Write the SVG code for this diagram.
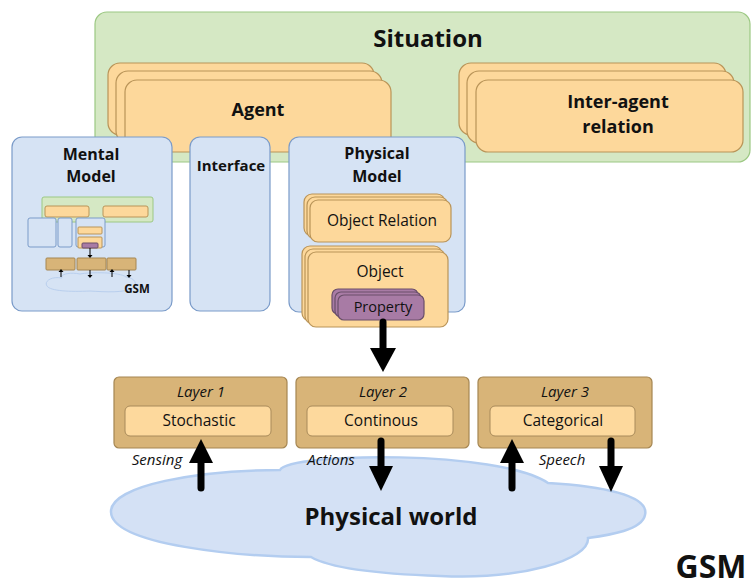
<svg xmlns="http://www.w3.org/2000/svg" width="756" height="588" viewBox="0 0 756 588">
<style>
text{font-family:"Open Sans","Noto Sans","DejaVu Sans",sans-serif;fill:#111;text-anchor:middle}
.b{font-weight:bold}
.i{font-style:italic}
.sit{fill:#d5e8c4;stroke:#9cc883;stroke-width:1.2}
.org{fill:#fdd89b;stroke:#b99458;stroke-width:1.2}
.blu{fill:#d6e3f4;stroke:#7a9bc9;stroke-width:1.2}
.lay{fill:#d8b478;stroke:#a58652;stroke-width:1.2}
.inn{fill:#fdd99d;stroke:#a88a5a;stroke-width:1}
.pur{fill:#a87ba5;stroke:#6a4f6a;stroke-width:1.2}
.shaft{stroke:#000;stroke-width:7;stroke-linecap:round;fill:none}
.head{fill:#000}
.m{stroke-width:1}
</style>

<g id="situation">
<rect class="sit" x="95" y="12" width="655" height="150" rx="12"/>
<text class="b" x="428" y="47" font-size="24">Situation</text>
</g>

<g id="agent">
<rect class="org" x="108" y="63" width="266" height="72" rx="12"/>
<rect class="org" x="116" y="71" width="266" height="72" rx="12"/>
<rect class="org" x="125" y="80" width="266" height="72" rx="12"/>
<text class="b" x="258" y="116" font-size="18">Agent</text>
</g>

<g id="inter-agent">
<rect class="org" x="459" y="63" width="267" height="72" rx="12"/>
<rect class="org" x="467" y="71" width="267" height="72" rx="12"/>
<rect class="org" x="476" y="80" width="267" height="72" rx="12"/>
<text class="b" x="618" y="108" font-size="18">Inter-agent</text>
<text class="b" x="618" y="133" font-size="18">relation</text>
</g>

<g id="mental-model">
<rect class="blu" x="12" y="137" width="160" height="174" rx="10"/>
<text class="b" x="91" y="160" font-size="16">Mental</text>
<text class="b" x="91" y="182" font-size="16">Model</text>
<g id="mini-gsm">
<path d="M62 278 C50 276 44 282 47 286 C50 291 70 292 90 291 C105 292 125 293 133 288 C138 284 135 278 126 277 C120 272 90 272 80 274 C70 272 60 274 62 278 Z" fill="#d6e3f4" stroke="#b9cfee" stroke-width="1"/>
<rect class="sit m" x="42" y="197" width="111" height="25" rx="2"/>
<rect class="org m" x="45" y="206" width="44" height="11" rx="2"/>
<rect class="org m" x="103" y="206" width="45" height="11" rx="2"/>
<rect class="blu m" x="28" y="218" width="28" height="29" rx="2"/>
<rect class="blu m" x="58" y="218" width="14" height="29" rx="2"/>
<rect class="blu m" x="76" y="218" width="29" height="29" rx="2"/>
<rect class="org m" x="78" y="227" width="24" height="7" rx="1"/>
<rect class="org m" x="78" y="237" width="24" height="11" rx="1"/>
<rect class="pur m" x="82" y="243" width="16" height="5" rx="1"/>
<rect class="lay m" x="46" y="258" width="29" height="12" rx="1"/>
<rect class="lay m" x="77" y="258" width="29" height="12" rx="1"/>
<rect class="lay m" x="107" y="258" width="29" height="12" rx="1"/>
<g stroke="#000" stroke-width="1">
<line x1="90" y1="248" x2="90" y2="255"/>
<line x1="61" y1="277" x2="61" y2="272"/>
<line x1="90" y1="270" x2="90" y2="275"/>
<line x1="112" y1="277" x2="112" y2="272"/>
<line x1="129" y1="270" x2="129" y2="275"/>
</g>
<g fill="#000">
<path d="M87.5 255 L92.5 255 L90 258 Z"/>
<path d="M58.5 272 L63.5 272 L61 269 Z"/>
<path d="M87.5 275 L92.5 275 L90 278 Z"/>
<path d="M109.5 272 L114.5 272 L112 269 Z"/>
<path d="M126.5 275 L131.5 275 L129 278 Z"/>
</g>
<text class="b" x="137" y="293" font-size="11.5">GSM</text>
</g>
</g>

<g id="interface">
<rect class="blu" x="190" y="137" width="80" height="174" rx="10"/>
<text class="b" x="231" y="171" font-size="15">Interface</text>
</g>

<g id="physical-model">
<rect class="blu" x="289" y="137" width="176" height="175" rx="10"/>
<text class="b" x="377" y="159" font-size="16">Physical</text>
<text class="b" x="377" y="182" font-size="16">Model</text>
</g>

<g id="object-relation">
<rect class="org" x="304" y="194" width="141" height="42" rx="8"/>
<rect class="org" x="307" y="197" width="141" height="42" rx="8"/>
<rect class="org" x="310" y="200" width="141" height="42" rx="8"/>
<text x="382" y="226" font-size="15.5">Object Relation</text>
</g>

<g id="object">
<rect class="org" x="302" y="246" width="140" height="75" rx="8"/>
<rect class="org" x="305" y="249" width="140" height="75" rx="8"/>
<rect class="org" x="308" y="252" width="140" height="75" rx="8"/>
<text x="380" y="277" font-size="15.5">Object</text>
</g>

<g id="property">
<rect class="pur" x="332" y="289" width="86" height="25" rx="6"/>
<rect class="pur" x="335" y="292" width="86" height="25" rx="6"/>
<rect class="pur" x="338" y="295" width="86" height="25" rx="6"/>
<text x="383" y="312" font-size="14.5">Property</text>
</g>

<g id="layer1">
<rect class="lay" x="114" y="377" width="173" height="71" rx="5"/>
<text class="i" x="201" y="397" font-size="15">Layer 1</text>
<rect class="inn" x="125" y="406" width="146" height="30" rx="5"/>
<text x="199" y="426" font-size="15.5">Stochastic</text>
</g>

<g id="layer2">
<rect class="lay" x="296" y="377" width="173" height="71" rx="5"/>
<text class="i" x="383" y="397" font-size="15">Layer 2</text>
<rect class="inn" x="307" y="406" width="146" height="30" rx="5"/>
<text x="381" y="426" font-size="15.5">Continous</text>
</g>

<g id="layer3">
<rect class="lay" x="478" y="377" width="174" height="71" rx="5"/>
<text class="i" x="565" y="397" font-size="15">Layer 3</text>
<rect class="inn" x="490" y="406" width="145" height="30" rx="5"/>
<text x="563" y="426" font-size="15.5">Categorical</text>
</g>

<g id="physical-world">
<path d="M280 470 C290 452 500 450 548 483 C600 486 650 495 645 515 C642 530 610 535 588 538 C590 560 520 580 440 576 C380 574 330 568 311 557 C240 557 112 545 111 512 C110 485 200 470 280 470 Z" fill="#d4e1f5" stroke="#b3cdf0" stroke-width="2.5"/>
<text class="b" x="391" y="525" font-size="24">Physical world</text>
</g>

<g id="connectors">
<line class="shaft" x1="383" y1="322" x2="383" y2="350"/>
<path class="head" d="M370 348 L396 348 L383 372 Z"/>
<line class="shaft" x1="201" y1="488" x2="201" y2="460"/>
<path class="head" d="M189 463 L213 463 L201 439 Z"/>
<line class="shaft" x1="381" y1="441" x2="381" y2="469"/>
<path class="head" d="M369 466 L393 466 L381 491 Z"/>
<line class="shaft" x1="512" y1="488" x2="512" y2="460"/>
<path class="head" d="M500 463 L524 463 L512 439 Z"/>
<line class="shaft" x1="611" y1="441" x2="611" y2="469"/>
<path class="head" d="M599 466 L623 466 L611 492 Z"/>
<text class="i" x="157" y="465" font-size="15">Sensing</text>
<text class="i" x="331" y="465" font-size="15">Actions</text>
<text class="i" x="562" y="465" font-size="15">Speech</text>
</g>

<text class="b" x="711" y="578" font-size="32">GSM</text>
</svg>
